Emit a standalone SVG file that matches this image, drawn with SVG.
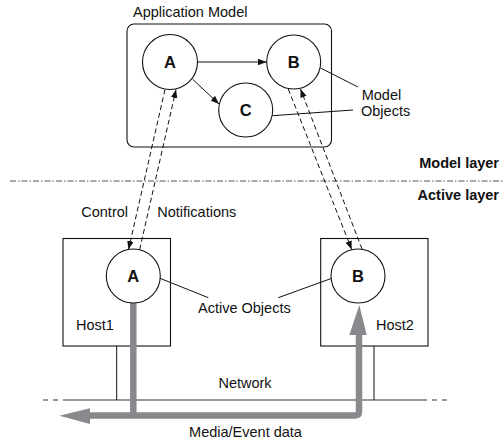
<svg xmlns="http://www.w3.org/2000/svg" width="504" height="441" viewBox="0 0 504 441">
<style>
text{font-family:"Liberation Sans",Arial,sans-serif;font-size:14.5px;fill:#111}
.b{font-weight:bold}
.big{font-weight:bold;font-size:16.5px}
.node{fill:#fff;stroke:#111;stroke-width:1.1}
.ln{fill:none;stroke:#111;stroke-width:1}
.dash{fill:none;stroke:#111;stroke-width:1;stroke-dasharray:5,3}
.gray{fill:none;stroke:#8a888c;stroke-width:6.5}
</style>
<defs>
<marker id="ah" markerUnits="userSpaceOnUse" markerWidth="9" markerHeight="7" refX="8.5" refY="3.25" orient="auto">
<path d="M0,0 L8.5,3.25 L0,6.5 z" fill="#111"/>
</marker>
</defs>

<g id="app-model">
<rect x="127" y="24" width="204.5" height="123" rx="7" class="node"/>
<text x="133" y="17">Application Model</text>
</g>

<g id="model-A">
<circle cx="170" cy="62" r="27.5" class="node"/>
<text x="170" y="68" text-anchor="middle" class="big">A</text>
</g>
<g id="model-B">
<circle cx="293.7" cy="62" r="27" class="node"/>
<text x="293.7" y="68" text-anchor="middle" class="big">B</text>
</g>
<g id="model-C">
<circle cx="245.7" cy="110" r="27" class="node"/>
<text x="245.7" y="116" text-anchor="middle" class="big">C</text>
</g>

<g id="layers">
<line x1="10" y1="181" x2="504" y2="181" stroke="#555" stroke-width="1" stroke-dasharray="6,2,1.5,2"/>
<text x="499" y="168" text-anchor="end" class="b">Model layer</text>
<text x="499" y="200" text-anchor="end" class="b">Active layer</text>
</g>

<g id="host1">
<rect x="63" y="238.5" width="107.5" height="107.5" class="node"/>
<text x="76" y="330">Host1</text>
</g>
<g id="host2">
<rect x="320.7" y="238.5" width="107.3" height="107.5" class="node"/>
<text x="376" y="330">Host2</text>
</g>

<g id="network">
<line x1="63" y1="400" x2="427" y2="400" stroke="#333" stroke-width="1.1"/>
<line x1="43" y1="400" x2="59" y2="400" stroke="#333" stroke-width="1.1" stroke-dasharray="5,5"/>
<line x1="432" y1="400" x2="448" y2="400" stroke="#333" stroke-width="1.1" stroke-dasharray="5,5"/>
<line x1="116.7" y1="346" x2="116.7" y2="400" class="ln"/>
<line x1="374" y1="346" x2="374" y2="400" class="ln"/>
<text x="245" y="388" text-anchor="middle">Network</text>
</g>

<g id="connectors">
<line x1="197.7" y1="62" x2="266.5" y2="62" class="ln" marker-end="url(#ah)"/>
<line x1="192.7" y1="79.3" x2="219" y2="104" class="ln" marker-end="url(#ah)"/>
<line x1="165" y1="89.5" x2="128.5" y2="249.5" class="dash" marker-end="url(#ah)"/>
<line x1="139.7" y1="249.5" x2="176" y2="89.5" class="dash" marker-end="url(#ah)"/>
<line x1="288.3" y1="89" x2="351.7" y2="249.5" class="dash" marker-end="url(#ah)"/>
<line x1="362" y1="249" x2="300.5" y2="89" class="dash" marker-end="url(#ah)"/>
<line x1="320.5" y1="68" x2="358" y2="87" class="ln"/>
<line x1="272.5" y1="115.7" x2="353" y2="110" class="ln"/>
<line x1="160" y1="278.3" x2="208.3" y2="297.7" class="ln"/>
<line x1="331.7" y1="278.3" x2="278.3" y2="297.7" class="ln"/>
<path d="M133.3,303 V415.5" class="gray"/>
<path d="M88,415.5 H355 Q359,415.5 359,411.5 V333" class="gray"/>
<polygon points="59.3,415.7 90,408.3 90,424" fill="#8a888c"/>
<polygon points="359.3,305 349.3,335 366.7,335" fill="#8a888c"/>
</g>

<g id="labels">
<text x="361.7" y="100">Model</text>
<text x="361" y="116">Objects</text>
<text x="128" y="217" text-anchor="end">Control</text>
<text x="157.3" y="217">Notifications</text>
<text x="198" y="313">Active Objects</text>
<text x="245.5" y="437" text-anchor="middle">Media/Event data</text>
</g>

<g id="active-A">
<circle cx="133.3" cy="276" r="27" class="node"/>
<text x="133.3" y="282" text-anchor="middle" class="big">A</text>
</g>
<g id="active-B">
<circle cx="358" cy="276" r="27" class="node"/>
<text x="358" y="282" text-anchor="middle" class="big">B</text>
</g>
</svg>
